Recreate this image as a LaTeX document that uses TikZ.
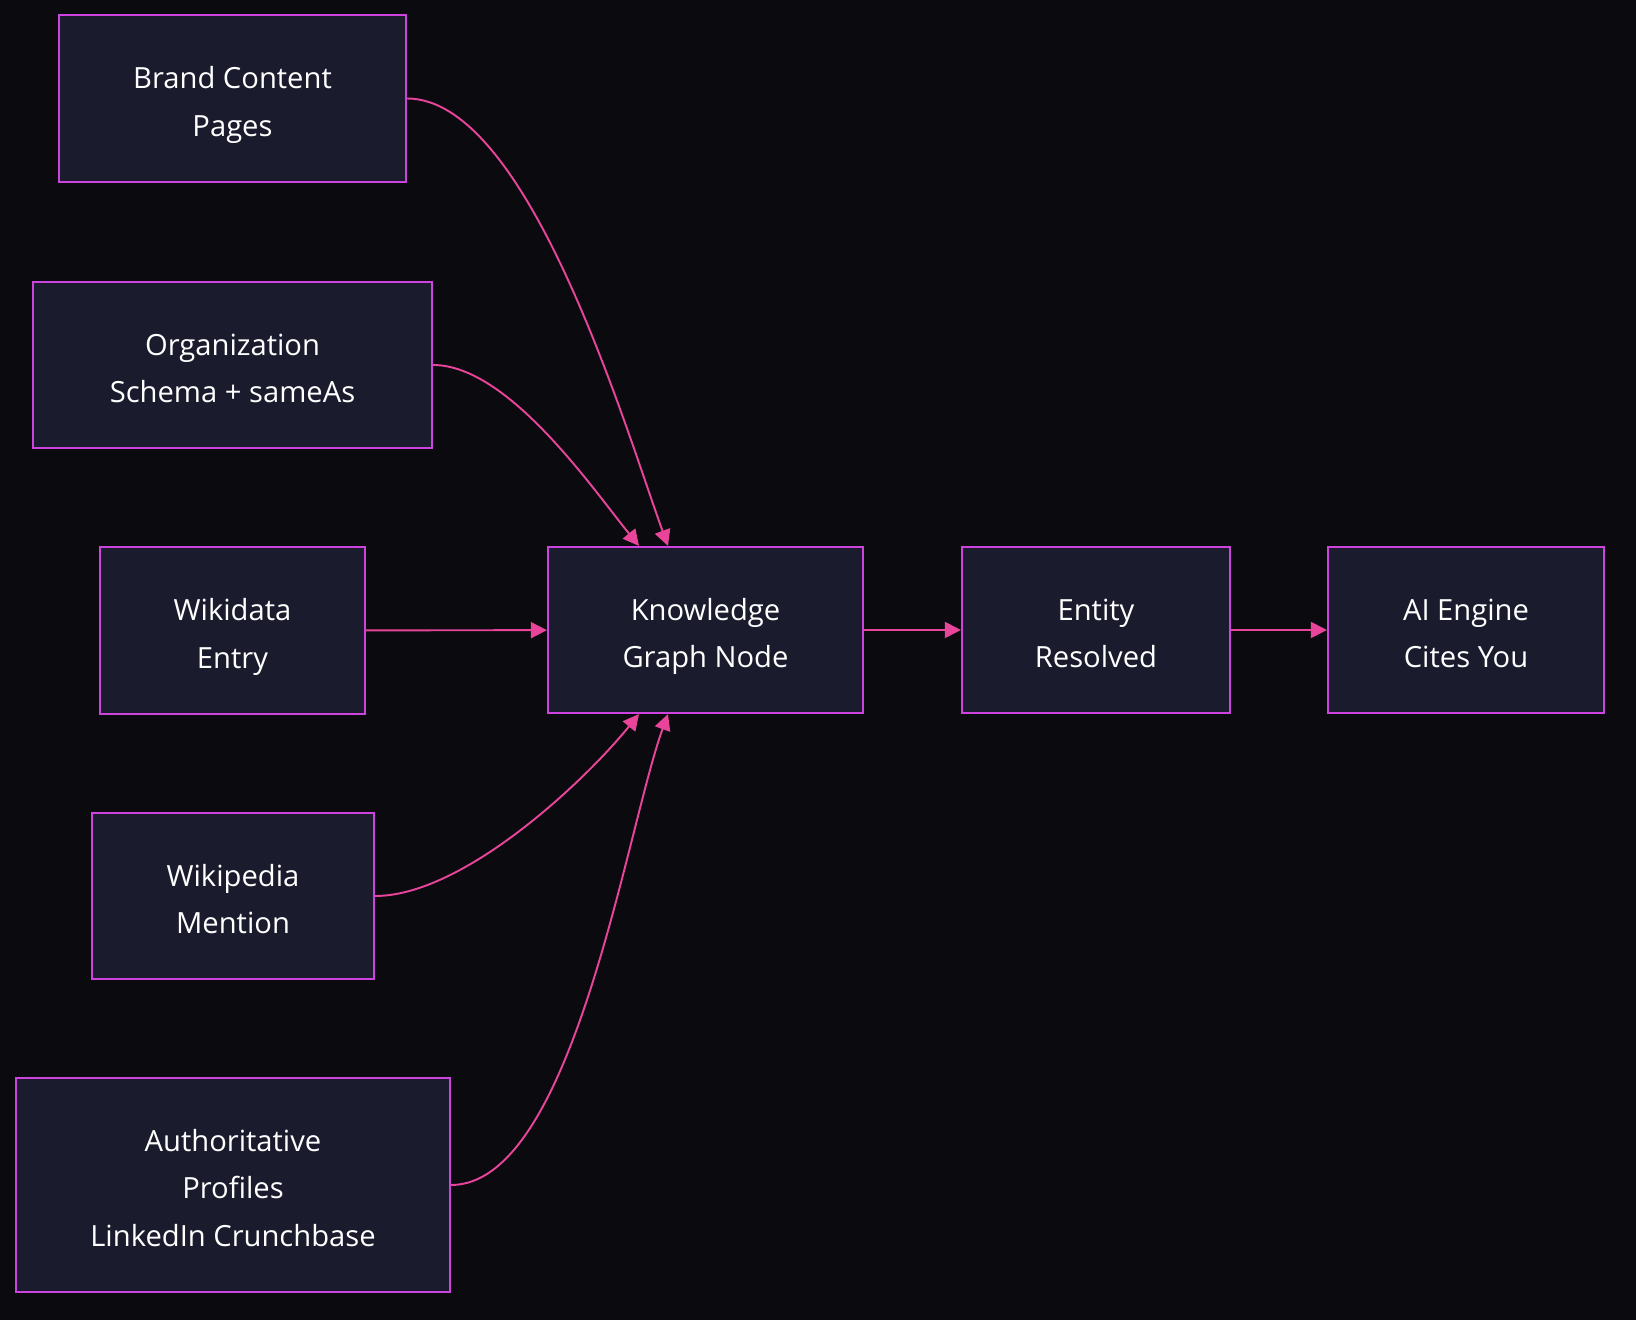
\documentclass[tikz,border=0pt]{standalone}
\usepackage{fontspec}
\setmainfont{Open Sans}
\usetikzlibrary{arrows.meta, positioning}

\definecolor{bgdark}{HTML}{0A0A0F}
\definecolor{boxfill}{HTML}{1B1B2E}
\definecolor{boxline}{HTML}{CC44DD}
\definecolor{linkpink}{HTML}{E8449A}

\begin{document}
\begin{tikzpicture}[
    box/.style={rectangle, draw=boxline, fill=boxfill, line width=0.6pt, text=white,
        align=center, inner sep=0pt, minimum height=1.66cm,
        text height=0.842cm, text depth=0.09cm,
        font=\fontsize{8.3}{13.5}\selectfont},
    link/.style={draw=linkpink, line width=0.55pt, -{Triangle[length=0.16cm, width=0.16cm]}},
    every edge/.style={link}
]

% background and page size
\fill[bgdark] (0,0) rectangle (16.36,-13.20);
\useasboundingbox (0,0) rectangle (16.36,-13.20);

% Sources (left column)
\node[box, minimum width=3.47cm, minimum height=1.67cm] (Brand) at (2.325,-0.985) {Brand Content\\Pages};
\node[box, minimum width=3.99cm] (Org) at (2.325,-3.65) {Organization\\Schema + sameAs};
\node[box, minimum width=2.65cm, minimum height=1.67cm] (Wikidata) at (2.325,-6.305) {Wikidata\\Entry};
\node[box, minimum width=2.82cm] (Wikipedia) at (2.33,-8.96) {Wikipedia\\Mention};
\node[box, minimum width=4.34cm, minimum height=2.14cm, text height=1.316cm] (Profiles) at (2.33,-11.85) {Authoritative\\Profiles\\LinkedIn Crunchbase};

% Chain (middle row)
\node[box, minimum width=3.15cm] (KG) at (7.055,-6.30) {Knowledge\\Graph Node};
\node[box, minimum width=2.68cm] (Entity) at (10.96,-6.30) {Entity\\Resolved};
\node[box, minimum width=2.76cm] (Engine) at (14.66,-6.30) {AI Engine\\Cites You};

% Sources into the graph node
\path (Brand.east) edge[out=0, in=110, looseness=0.6] ([xshift=-0.375cm]KG.north);
\path (Org.east) edge[out=0, in=129, looseness=0.7] ([xshift=-0.665cm]KG.north);
\path (Wikidata) edge (KG);
\path (Wikipedia.east) edge[out=0, in=-129, looseness=0.7] ([xshift=-0.665cm]KG.south);
\path (Profiles.east) edge[out=0, in=-110, looseness=0.6] ([xshift=-0.375cm]KG.south);

% Resolution chain
\path (KG) edge (Entity);
\path (Entity) edge (Engine);

\end{tikzpicture}
\end{document}
